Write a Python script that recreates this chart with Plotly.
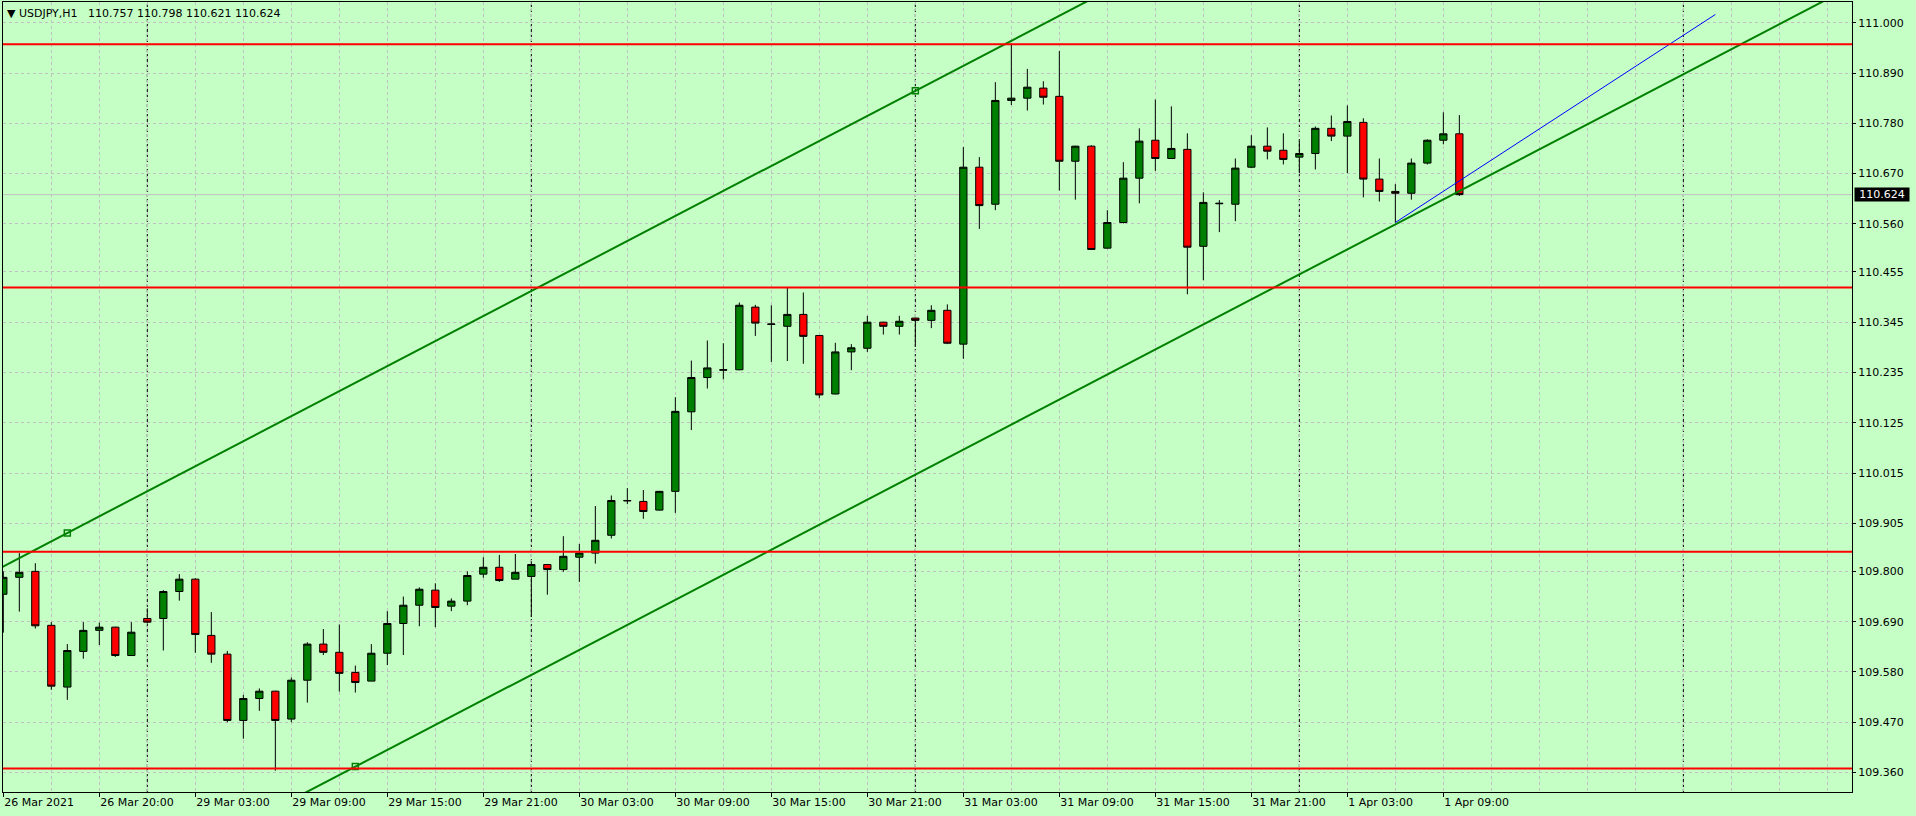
import plotly.graph_objects as go

# ---------------- data (H1 bars, index 0 = 26 Mar 2021 14:00) ----------------
bar_index = list(range(92))
opens = [109.750, 109.787, 109.800, 109.682, 109.547, 109.625, 109.671, 109.678, 109.616, 109.697,
         109.697, 109.756, 109.783, 109.660, 109.619, 109.474, 109.522, 109.538, 109.477, 109.562,
         109.641, 109.623, 109.579, 109.560, 109.621, 109.686, 109.726, 109.759, 109.724, 109.735,
         109.794, 109.809, 109.783, 109.789, 109.815, 109.804, 109.831, 109.840, 109.879, 109.954,
         109.953, 109.934, 109.975, 110.149, 110.224, 110.240, 110.241, 110.378, 110.340, 110.336,
         110.362, 110.316, 110.188, 110.280, 110.288, 110.345, 110.336, 110.354, 110.349, 110.371,
         110.297, 110.684, 110.603, 110.830, 110.835, 110.857, 110.839, 110.697, 110.730, 110.507,
         110.563, 110.660, 110.743, 110.703, 110.723, 110.511, 110.604, 110.603, 110.684, 110.730,
         110.721, 110.706, 110.714, 110.769, 110.752, 110.782, 110.658, 110.631, 110.627, 110.693,
         110.743, 110.757]
highs = [109.800, 109.840, 109.818, 109.689, 109.641, 109.689, 109.688, 109.679, 109.689, 109.719,
         109.759, 109.794, 109.785, 109.711, 109.626, 109.530, 109.544, 109.539, 109.568, 109.645,
         109.674, 109.684, 109.594, 109.641, 109.713, 109.745, 109.765, 109.774, 109.741, 109.800,
         109.831, 109.836, 109.838, 109.822, 109.816, 109.877, 109.860, 109.943, 109.966, 109.982,
         109.978, 109.976, 110.181, 110.261, 110.305, 110.299, 110.388, 110.383, 110.382, 110.422,
         110.410, 110.317, 110.300, 110.297, 110.359, 110.346, 110.359, 110.355, 110.382, 110.384,
         110.728, 110.706, 110.870, 110.955, 110.899, 110.872, 110.938, 110.731, 110.732, 110.590,
         110.695, 110.769, 110.832, 110.817, 110.758, 110.629, 110.612, 110.703, 110.754, 110.771,
         110.758, 110.743, 110.773, 110.797, 110.819, 110.791, 110.703, 110.647, 110.703, 110.745,
         110.804, 110.798]
lows = [109.666, 109.712, 109.675, 109.541, 109.519, 109.609, 109.639, 109.613, 109.616, 109.686,
        109.627, 109.736, 109.622, 109.600, 109.470, 109.434, 109.495, 109.364, 109.470, 109.513,
        109.617, 109.537, 109.535, 109.560, 109.595, 109.617, 109.680, 109.678, 109.713, 109.726,
        109.786, 109.777, 109.783, 109.700, 109.749, 109.799, 109.777, 109.817, 109.872, 109.947,
        109.915, 109.933, 109.928, 110.109, 110.200, 110.220, 110.240, 110.315, 110.258, 110.260,
        110.254, 110.179, 110.187, 110.240, 110.280, 110.318, 110.318, 110.291, 110.332, 110.297,
        110.265, 110.549, 110.590, 110.820, 110.808, 110.821, 110.633, 110.613, 110.503, 110.506,
        110.561, 110.605, 110.676, 110.702, 110.406, 110.437, 110.542, 110.566, 110.682, 110.701,
        110.690, 110.671, 110.679, 110.741, 110.671, 110.618, 110.609, 110.563, 110.613, 110.690,
        110.734, 110.621]
closes = [109.787, 109.798, 109.681, 109.549, 109.627, 109.671, 109.678, 109.616, 109.667, 109.689,
          109.756, 109.783, 109.662, 109.619, 109.474, 109.522, 109.538, 109.474, 109.562, 109.641,
          109.623, 109.577, 109.557, 109.621, 109.686, 109.726, 109.761, 109.721, 109.735, 109.791,
          109.809, 109.780, 109.798, 109.815, 109.804, 109.833, 109.840, 109.868, 109.955, 109.955,
          109.931, 109.975, 110.150, 110.224, 110.245, 110.241, 110.382, 110.343, 110.341, 110.362,
          110.314, 110.186, 110.280, 110.289, 110.345, 110.336, 110.347, 110.349, 110.371, 110.299,
          110.684, 110.600, 110.830, 110.835, 110.859, 110.837, 110.697, 110.730, 110.504, 110.563,
          110.660, 110.741, 110.703, 110.725, 110.509, 110.607, 110.605, 110.682, 110.730, 110.719,
          110.701, 110.714, 110.769, 110.752, 110.784, 110.658, 110.631, 110.627, 110.693, 110.743,
          110.757, 110.624]

time_tick_bars = list(range(0, 91, 6))
time_tick_labels = ["26 Mar 2021", "26 Mar 20:00", "29 Mar 03:00", "29 Mar 09:00", "29 Mar 15:00",
                    "29 Mar 21:00", "30 Mar 03:00", "30 Mar 09:00", "30 Mar 15:00", "30 Mar 21:00",
                    "31 Mar 03:00", "31 Mar 09:00", "31 Mar 15:00", "31 Mar 21:00", "1 Apr 03:00",
                    "1 Apr 09:00"]
price_ticks = [111.000, 110.890, 110.780, 110.670, 110.560, 110.455, 110.345, 110.235,
               110.125, 110.015, 109.905, 109.800, 109.690, 109.580, 109.470, 109.360]
price_tick_labels = ["%.3f" % v for v in price_ticks]

day_separator_bars = [9, 33, 57, 81, 105]
red_levels = [110.953, 110.421, 109.843, 109.369]
channel_anchor_bars = [4, 57, 22]
channel_anchor_prices = [109.884, 110.851, 109.373]
blue_line_bars = [87, 107]
blue_line_prices = [110.563, 111.018]
bid_price = 110.624
header_text = "USDJPY,H1"
header_ohlc = ["110.757", "110.798", "110.621", "110.624"]

# ---------------- figure ----------------
BG = "#C5FFC5"
GRID = "#C0C0C0"
FONT = "DejaVu Sans"

fig = go.Figure()

fig.add_trace(go.Candlestick(
    x=bar_index, open=opens, high=highs, low=lows, close=closes,
    increasing=dict(fillcolor="#008000", line=dict(color="black", width=1)),
    decreasing=dict(fillcolor="#FF0000", line=dict(color="black", width=1)),
    whiskerwidth=0, showlegend=False, hoverinfo="skip",
))

# equidistant channel
b0, b1, b2 = channel_anchor_bars
p0, p1, p2 = channel_anchor_prices
slope = (p1 - p0) / (b1 - b0)
offset = p2 - (p0 + slope * (b2 - b0))
xe = [-2, 125]
upper = [p0 + slope * (x - b0) for x in xe]
lower = [p0 + offset + slope * (x - b0) for x in xe]
for ys in (upper, lower):
    fig.add_trace(go.Scatter(x=xe, y=ys, mode="lines", line=dict(color="#008000", width=2),
                             showlegend=False, hoverinfo="skip"))
fig.add_trace(go.Scatter(x=channel_anchor_bars, y=channel_anchor_prices, mode="markers",
                         marker=dict(symbol="square-open", size=6, color="#008000",
                                     line=dict(width=1.5, color="#008000")),
                         showlegend=False, hoverinfo="skip"))

# blue trend line
fig.add_trace(go.Scatter(x=blue_line_bars, y=blue_line_prices, mode="lines",
                         line=dict(color="#0000FF", width=1), showlegend=False, hoverinfo="skip"))

shapes = []
for b in day_separator_bars:
    shapes.append(dict(type="line", xref="x", yref="paper", x0=b, x1=b, y0=0, y1=1,
                       line=dict(color="black", width=1, dash="3px,2px"), layer="between"))
shapes.append(dict(type="line", xref="paper", yref="y", x0=0, x1=1, y0=bid_price, y1=bid_price,
                   line=dict(color="#C0C0C0", width=1), layer="between"))
for lv in red_levels:
    shapes.append(dict(type="line", xref="paper", yref="y", x0=0, x1=1, y0=lv, y1=lv,
                       line=dict(color="#FF0000", width=2), layer="above"))

annotations = [
    dict(xref="paper", yref="paper", x=0, y=1, xanchor="left", yanchor="top",
         xshift=2, yshift=-3, showarrow=False, align="left",
         text="\u25BC " + header_text + "\u00a0\u00a0\u00a0" + " ".join(header_ohlc),
         font=dict(family=FONT, size=11, color="black")),
    dict(xref="paper", yref="y", x=1, y=bid_price, xanchor="left", yanchor="middle",
         xshift=2, showarrow=False, text="%.3f" % bid_price, bgcolor="black",
         width=52, height=11, borderpad=1,
         font=dict(family=FONT, size=11, color="white")),
]

fig.update_layout(
    width=1916, height=816, autosize=False,
    margin=dict(l=3, r=64, t=2, b=24, pad=0),
    paper_bgcolor=BG, plot_bgcolor=BG,
    showlegend=False, boxgap=0.35, hovermode=False,
    shapes=shapes, annotations=annotations,
    font=dict(family=FONT, size=11, color="black"),
    xaxis=dict(
        range=[-0.02, 115.54], tickmode="array", tickvals=time_tick_bars, ticktext=time_tick_labels,
        ticks="outside", ticklen=4, tickcolor="black", tickwidth=1,
        ticklabelposition="outside right",
        tickfont=dict(family=FONT, size=11, color="black"),
        showgrid=True, gridcolor=GRID, griddash="3px,3px", gridwidth=1,
        minor=dict(tickmode="linear", tick0=0, dtick=3, showgrid=True, gridcolor=GRID,
                   griddash="3px,3px", gridwidth=1, ticks=""),
        showline=True, linecolor="black", linewidth=1, mirror=True,
        zeroline=False, rangeslider=dict(visible=False), fixedrange=True,
    ),
    yaxis=dict(
        side="right", range=[109.3175, 111.0453], tickmode="array",
        tickvals=price_ticks, ticktext=price_tick_labels,
        ticks="outside", ticklen=3, tickcolor="black", tickwidth=1,
        tickfont=dict(family=FONT, size=11, color="black"),
        showgrid=True, gridcolor=GRID, griddash="3px,3px", gridwidth=1,
        showline=True, linecolor="black", linewidth=1, mirror=True,
        zeroline=False, fixedrange=True,
    ),
)

fig.write_html(
    "out.html",
    config={"displayModeBar": False, "staticPlot": True},
    post_script="document.body.style.margin='0px';document.body.style.overflow='hidden';"
                "document.body.style.background='" + BG + "';",
)
